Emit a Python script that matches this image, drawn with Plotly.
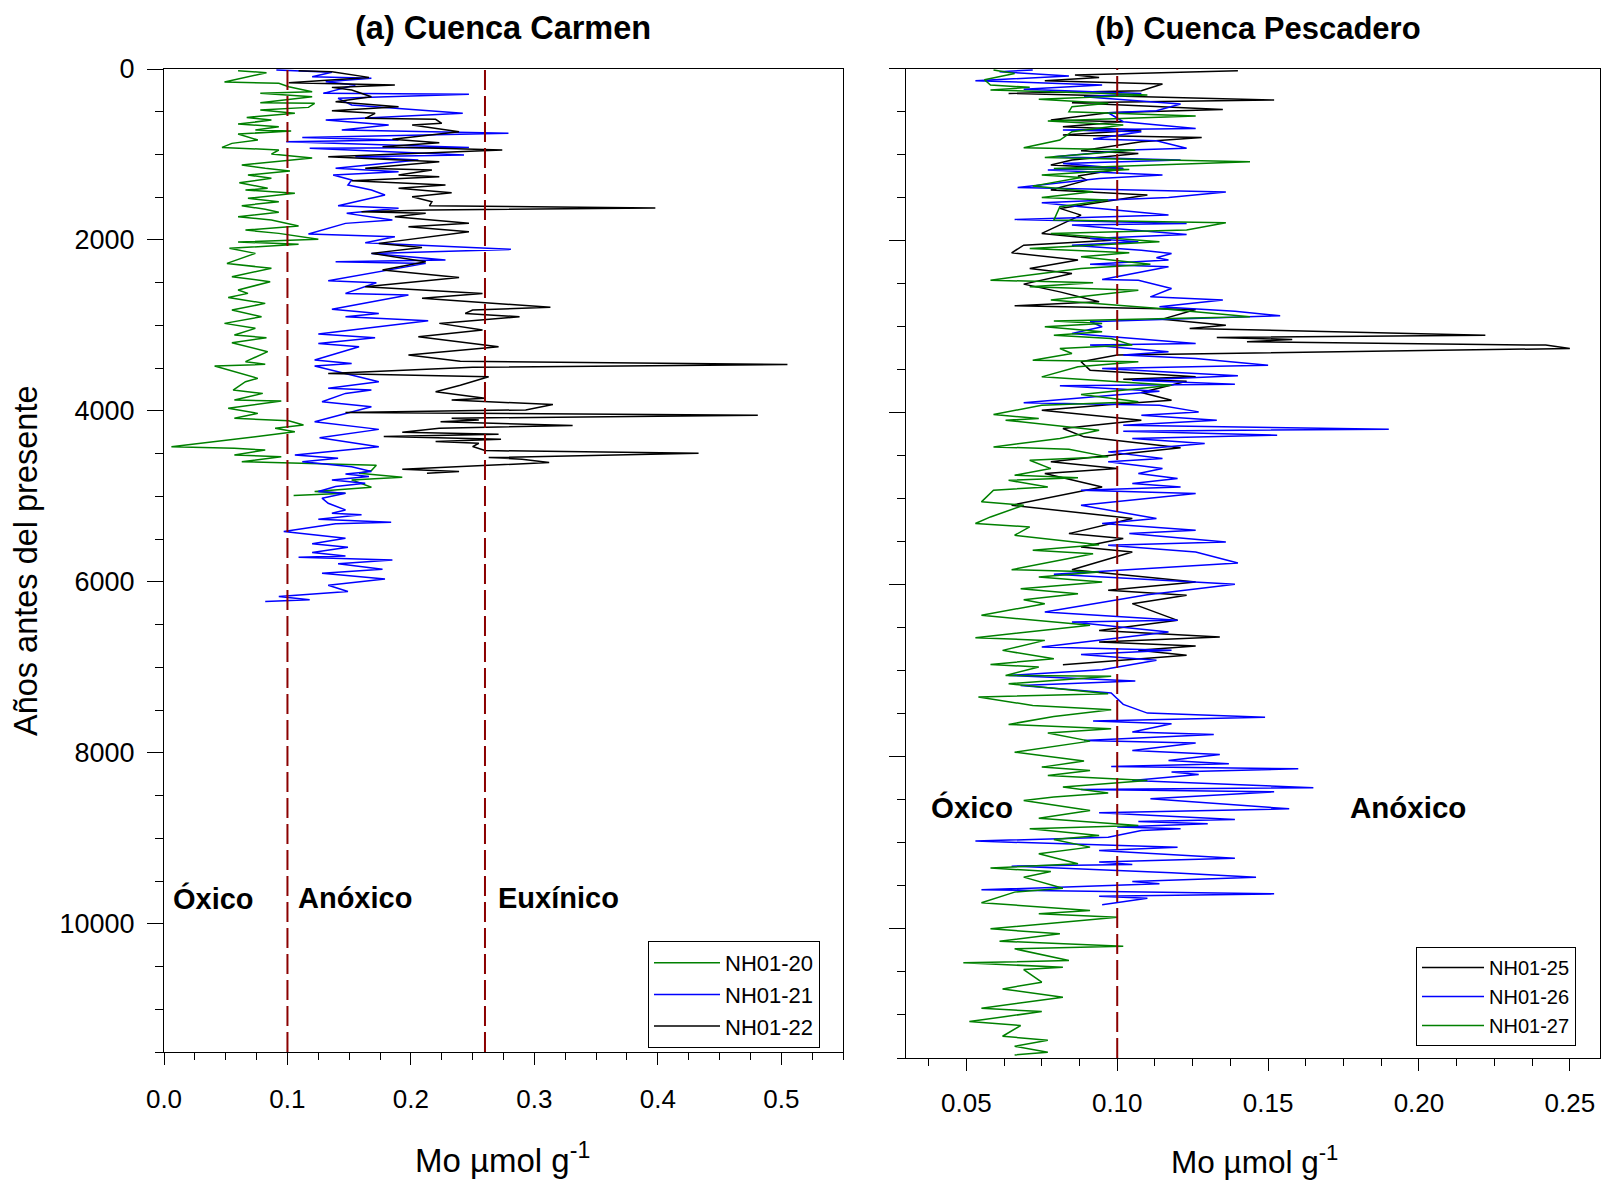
import plotly.graph_objects as go

# ---------------- DATA (age in years BP, Mo in umol/g) ----------------
# Panel (a) Cuenca Carmen
nh01_20 = [(20,0.060),(43,0.083),(152,0.049),(168,0.093),(207,0.101),(265,0.120),(285,0.078),(324,0.120),
           (394,0.078),(402,0.122),(449,0.117),(480,0.078),(519,0.106),(566,0.067),(597,0.087),(644,0.060),
           (675,0.093),(714,0.074),(725,0.103),(761,0.060),(831,0.076),(870,0.055),(917,0.047),(948,0.093),
           (995,0.087),(1041,0.120),(1123,0.063),(1162,0.082),(1193,0.102),(1240,0.068),(1279,0.087),(1330,0.061),
           (1396,0.084),(1416,0.066),(1455,0.106),(1513,0.068),(1552,0.093),(1599,0.063),(1642,0.082),(1677,0.093),
           (1728,0.060),(1767,0.087),(1837,0.109),(1884,0.066),(1923,0.093),(1993,0.125),(2024,0.060),(2051,0.109),
           (2098,0.053),(2157,0.074),(2274,0.051),(2332,0.087),(2430,0.055),(2488,0.086),(2586,0.060),(2625,0.068),
           (2672,0.052),(2742,0.082),(2820,0.055),(2898,0.079),(2976,0.049),(3034,0.074),(3112,0.057),(3143,0.083),
           (3202,0.055),(3307,0.084),(3424,0.066),(3455,0.082),(3475,0.041),(3541,0.057),(3619,0.076),(3658,0.066),
           (3756,0.056),(3795,0.080),(3873,0.057),(3884,0.095),(3970,0.052),(4029,0.076),(4087,0.057),(4115,0.101),
           (4165,0.113),(4204,0.090),(4243,0.106),(4302,0.074),(4341,0.051),(4419,0.006),(4438,0.057),(4458,0.082),
           (4516,0.057),(4536,0.095),(4594,0.063),(4635,0.172),(4698,0.168),(4729,0.158),(4776,0.193),(4807,0.152),
           (4893,0.168),(4943,0.122),(4963,0.147),(4990,0.105)]

nh01_21 = [(12,0.091),(39,0.136),(90,0.120),(109,0.168),(148,0.131),(187,0.155),(285,0.129),(296,0.247),
           (343,0.141),(421,0.152),(519,0.242),(597,0.131),(655,0.182),(714,0.144),(753,0.279),(800,0.112),
           (831,0.190),(850,0.099),(917,0.247),(928,0.118),(1006,0.243),(1026,0.155),(1065,0.206),(1162,0.139),
           (1201,0.190),(1240,0.137),(1299,0.152),(1357,0.149),(1416,0.168),(1474,0.179),(1599,0.141),(1630,0.190),
           (1689,0.148),(1767,0.185),(1806,0.147),(1931,0.117),(1962,0.187),(2032,0.163),(2110,0.281),(2157,0.168),
           (2235,0.228),(2254,0.139),(2274,0.212),(2391,0.168),(2477,0.133),(2500,0.172),(2625,0.147),(2644,0.198),
           (2812,0.136),(2859,0.174),(2898,0.147),(2945,0.214),(3101,0.125),(3143,0.171),(3210,0.125),(3249,0.158),
           (3405,0.122),(3444,0.152),(3475,0.122),(3658,0.174),(3736,0.133),(3756,0.168),(3795,0.147),(3892,0.128),
           (3951,0.168),(4126,0.122),(4216,0.174),(4313,0.126),(4419,0.174),(4516,0.106),(4555,0.141),(4594,0.112),
           (4653,0.152),(4709,0.168),(4737,0.147),(4768,0.166),(4807,0.136),(4846,0.163),(4885,0.139),(4943,0.125),
           (4963,0.147),(5021,0.128),(5080,0.133),(5158,0.147),(5197,0.136),(5216,0.160),(5267,0.125),(5302,0.184),
           (5321,0.139),(5411,0.097),(5450,0.125),(5489,0.147),(5555,0.120),(5594,0.149),(5657,0.120),(5696,0.147),
           (5711,0.109),(5743,0.185),(5789,0.141),(5852,0.177),(5898,0.128),(5965,0.179),(6039,0.133),(6113,0.149),
           (6171,0.093),(6210,0.118),(6230,0.082)]

nh01_22 = [(20,0.109),(31,0.136),(98,0.166),(160,0.101),(187,0.187),(215,0.136),(246,0.152),(324,0.168),
           (382,0.139),(441,0.190),(488,0.136),(519,0.171),(577,0.163),(589,0.220),(636,0.225),(655,0.201),
           (733,0.239),(823,0.185),(862,0.223),(909,0.177),(948,0.274),(1026,0.133),(1084,0.223),(1162,0.163),
           (1182,0.217),(1240,0.190),(1260,0.223),(1307,0.152),(1357,0.228),(1396,0.190),(1447,0.233),(1494,0.201),
           (1552,0.217),(1600,0.215),(1626,0.398),(1650,0.215),(1669,0.160),(1689,0.212),(1728,0.187),(1806,0.247),
           (1845,0.198),(1903,0.247),(2040,0.174),(2087,0.209),(2157,0.168),(2254,0.212),(2352,0.177),(2438,0.239),
           (2547,0.163),(2625,0.258),(2683,0.209),(2742,0.269),(2787,0.313),(2820,0.250),(2859,0.244),(2898,0.288),
           (2976,0.223),(3054,0.258),(3132,0.206),(3249,0.271),(3346,0.198),(3420,0.240),(3457,0.505),(3490,0.250),
           (3561,0.133),(3600,0.263),(3700,0.240),(3775,0.220),(3853,0.260),(3873,0.233),(3926,0.315),(3988,0.293),
           (4019,0.147),(4050,0.481),(4085,0.233),(4105,0.255),(4128,0.224),(4171,0.331),(4202,0.223),(4249,0.193),
           (4273,0.271),(4300,0.178),(4331,0.273),(4358,0.220),(4378,0.255),(4417,0.250),(4464,0.260),(4495,0.433),
           (4546,0.263),(4565,0.290),(4604,0.312),(4682,0.193),(4709,0.239),(4729,0.213)]

# Panel (b) Cuenca Pescadero
nh01_25 = [(24,0.140),(74,0.086),(102,0.094),(140,0.076),(179,0.115),(257,0.108),(288,0.064),(365,0.152),
           (396,0.085),(474,0.135),(513,0.097),(598,0.078),(617,0.102),(675,0.082),(714,0.108),(772,0.082),
           (800,0.128),(850,0.108),(955,0.088),(986,0.107),(1063,0.085),(1121,0.078),(1160,0.102),(1249,0.087),
           (1296,0.090),(1412,0.078),(1470,0.110),(1625,0.081),(1703,0.088),(1916,0.075),(1994,0.098),(2052,0.069),
           (2141,0.065),(2226,0.087),(2323,0.071),(2381,0.085),(2505,0.069),(2595,0.081),(2711,0.094),(2757,0.066),
           (2800,0.126),(2912,0.115),(2982,0.136),(3020,0.124),(3098,0.222),(3125,0.133),(3148,0.158),(3175,0.143),
           (3214,0.242),(3253,0.250),(3330,0.100),(3408,0.088),(3505,0.091),(3583,0.126),(3610,0.102),(3633,0.123),
           (3765,0.108),(3854,0.118),(3904,0.098),(3970,0.075),(4087,0.108),(4183,0.082),(4280,0.089),(4408,0.121),
           (4571,0.078),(4649,0.100),(4707,0.076),(4862,0.095),(5075,0.065),(5230,0.105),(5405,0.084),(5463,0.102),
           (5560,0.088),(5618,0.105),(5824,0.085),(5967,0.126),(6064,0.097),(6122,0.123),(6219,0.105),(6335,0.114),
           (6413,0.120),(6530,0.094),(6607,0.134),(6665,0.094),(6712,0.126),(6762,0.107),(6820,0.123),(6929,0.082)]

nh01_26 = [(16,0.072),(36,0.061),(86,0.084),(140,0.053),(191,0.095),(241,0.069),(288,0.108),(326,0.089),
           (412,0.121),(489,0.113),(513,0.097),(617,0.102),(695,0.126),(714,0.082),(734,0.108),(819,0.092),
           (838,0.113),(927,0.123),(947,0.104),(1024,0.079),(1063,0.121),(1102,0.082),(1160,0.102),(1179,0.077),
           (1238,0.115),(1276,0.094),(1381,0.067),(1435,0.136),(1497,0.117),(1559,0.075),(1606,0.088),(1703,0.117),
           (1753,0.066),(1800,0.123),(1819,0.085),(1928,0.123),(1974,0.091),(2013,0.107),(2052,0.085),(2110,0.108),
           (2149,0.118),(2199,0.113),(2226,0.117),(2273,0.091),(2304,0.117),(2451,0.095),(2459,0.107),(2556,0.118),
           (2653,0.111),(2691,0.135),(2769,0.114),(2819,0.139),(2873,0.154),(2943,0.091),(3001,0.095),(3079,0.085),
           (3195,0.126),(3214,0.091),(3292,0.117),(3330,0.102),(3369,0.126),(3447,0.150),(3486,0.095),(3571,0.140),
           (3621,0.105),(3668,0.139),(3687,0.081),(3749,0.114),(3885,0.069),(3912,0.114),(3990,0.127),(4028,0.108),
           (4087,0.133),(4145,0.102),(4191,0.190),(4214,0.102),(4261,0.153),(4300,0.105),(4358,0.129),(4455,0.097),
           (4532,0.115),(4571,0.097),(4649,0.115),(4707,0.107),(4765,0.120),(4823,0.105),(4862,0.121),(4901,0.088),
           (4940,0.126),(5075,0.088),(5230,0.113),(5288,0.095),(5366,0.126),(5405,0.104),(5502,0.136),(5540,0.097),
           (5618,0.126),(5746,0.140),(5878,0.079),(5994,0.139),(6115,0.110),(6316,0.076),(6413,0.120),(6433,0.085),
           (6549,0.117),(6723,0.075),(6762,0.118),(6809,0.088),(6878,0.113),(6987,0.095),(7053,0.064),(7119,0.106),
           (7169,0.068),(7258,0.098),(7390,0.102),(7491,0.110),(7538,0.149),(7584,0.092),(7615,0.118),(7712,0.105),
           (7739,0.132),(7809,0.089),(7840,0.126),(7925,0.105),(7972,0.134),(8042,0.117),(8080,0.137),(8111,0.098),
           (8138,0.160),(8177,0.118),(8204,0.127),(8274,0.105),(8359,0.165),(8379,0.088),(8406,0.152),(8476,0.113),
           (8487,0.111),(8603,0.157),(8650,0.094),(8727,0.139),(8750,0.107),(8778,0.130),(8816,0.100),(8836,0.121),
           (8855,0.108),(8933,0.097),(8979,0.053),(9049,0.120),(9088,0.094),(9177,0.139),(9223,0.094),(9250,0.105),
           (9270,0.065),(9347,0.118),(9398,0.146),(9448,0.105),(9475,0.114),(9545,0.055),(9592,0.152),(9619,0.094),
           (9642,0.110),(9720,0.095)]

nh01_27 = [(16,0.059),(56,0.066),(130,0.056),(191,0.058),(218,0.071),(249,0.058),(288,0.097),(307,0.110),
           (357,0.074),(404,0.097),(443,0.085),(501,0.084),(551,0.126),(609,0.077),(656,0.102),(734,0.085),
           (830,0.081),(920,0.069),(947,0.106),(1032,0.076),(1082,0.144),(1160,0.079),(1172,0.104),(1238,0.075),
           (1265,0.088),(1366,0.072),(1431,0.092),(1497,0.075),(1528,0.097),(1606,0.081),(1761,0.079),(1792,0.136),
           (1877,0.123),(1916,0.078),(2013,0.114),(2091,0.071),(2141,0.104),(2187,0.088),(2273,0.111),(2323,0.088),
           (2459,0.058),(2490,0.092),(2536,0.071),(2575,0.107),(2691,0.078),(2788,0.114),(2885,0.144),(2935,0.079),
           (2962,0.095),(3001,0.076),(3059,0.095),(3098,0.079),(3137,0.098),(3214,0.105),(3253,0.081),(3311,0.085),
           (3389,0.072),(3408,0.107),(3466,0.087),(3583,0.075),(3680,0.118),(3788,0.088),(3873,0.107),(3912,0.075),
           (4021,0.059),(4067,0.074),(4087,0.063),(4203,0.094),(4300,0.081),(4397,0.059),(4424,0.084),(4513,0.097),
           (4552,0.071),(4649,0.078),(4726,0.066),(4757,0.087),(4785,0.064),(4862,0.077),(4901,0.059),(5036,0.055),
           (5075,0.069),(5211,0.058),(5288,0.053),(5327,0.071),(5424,0.066),(5533,0.094),(5599,0.072),(5638,0.092),
           (5824,0.065),(5851,0.094),(5909,0.074),(5967,0.095),(6045,0.068),(6103,0.087),(6173,0.069),(6219,0.076),
           (6355,0.055),(6471,0.091),(6615,0.053),(6646,0.076),(6762,0.062),(6859,0.079),(6925,0.058),(6956,0.074),
           (7053,0.063),(7064,0.098),(7150,0.064),(7266,0.097),(7305,0.054),(7402,0.072),(7452,0.098),(7530,0.079),
           (7623,0.064),(7673,0.098),(7723,0.077),(7817,0.091),(7945,0.066),(8003,0.078),(8049,0.089),(8119,0.075),
           (8158,0.091),(8215,0.077),(8274,0.110),(8351,0.082),(8421,0.097),(8467,0.079),(8506,0.069),(8622,0.091),
           (8712,0.074),(8797,0.107),(8836,0.071),(8913,0.094),(8960,0.079),(9049,0.091),(9126,0.074),(9243,0.087),
           (9293,0.058),(9332,0.078),(9398,0.069),(9526,0.082),(9572,0.066),(9696,0.055),(9785,0.091),(9824,0.074),
           (9863,0.100),(9999,0.058),(10057,0.081),(10142,0.061),(10200,0.102),(10231,0.066),(10367,0.084),(10394,0.049),
           (10444,0.082),(10472,0.069),(10619,0.075),(10697,0.062),(10794,0.082),(10922,0.055),(10960,0.075),(11077,0.051),
           (11123,0.068),(11247,0.062),(11294,0.077),(11364,0.066),(11433,0.077),(11464,0.066)]

thresholds_a = [0.10, 0.26]
thresholds_b = [0.10]

x_ticks_a = [0.0, 0.1, 0.2, 0.3, 0.4, 0.5]
x_ticks_b = [0.05, 0.10, 0.15, 0.20, 0.25]
y_ticks = [0, 2000, 4000, 6000, 8000, 10000]
y_tick_labels = ["0", "2000", "4000", "6000", "8000", "10000"]

# ---------------- FIGURE ----------------
W, H = 1606, 1183
FONT = "Liberation Sans, Arial, Helvetica, sans-serif"
GREEN, BLUE, BLACK, RED = "#008000", "#0000FF", "#000000", "#8B0000"

def px(x):
    return x / W

def py(y):
    return 1 - y / H

def unzip(series):
    return [p[1] for p in series], [p[0] for p in series]

fig = go.Figure()

for name, ser, col in [("NH01-20", nh01_20, GREEN), ("NH01-21", nh01_21, BLUE), ("NH01-22", nh01_22, BLACK)]:
    xs, ys = unzip(ser)
    fig.add_trace(go.Scatter(x=xs, y=ys, mode="lines", name=name, line=dict(color=col, width=1.5),
                             xaxis="x", yaxis="y", legend="legend"))

for name, ser, col in [("NH01-25", nh01_25, BLACK), ("NH01-26", nh01_26, BLUE), ("NH01-27", nh01_27, GREEN)]:
    xs, ys = unzip(ser)
    fig.add_trace(go.Scatter(x=xs, y=ys, mode="lines", name=name, line=dict(color=col, width=1.5),
                             xaxis="x2", yaxis="y2", legend="legend2"))

shapes = []
for t in thresholds_a:
    shapes.append(dict(type="line", xref="x", yref="y domain", x0=t, x1=t, y0=0, y1=1,
                       line=dict(color=RED, width=2, dash="20px,6px"), layer="above"))
for t in thresholds_b:
    shapes.append(dict(type="line", xref="x2", yref="y2 domain", x0=t, x1=t, y0=0, y1=1,
                       line=dict(color=RED, width=2, dash="20px,6px"), layer="above"))

axis_common = dict(showgrid=False, zeroline=False, showline=True, linecolor="black", linewidth=1,
                   mirror=True, ticks="outside", tickcolor="black", tickwidth=1, automargin=False,
                   tickfont=dict(family=FONT, size=26, color="black"))

left_x = dict(domain=[px(164), px(843)], range=[0, 0.55], tickvals=x_ticks_a, tickformat=".1f",
              ticklen=12, minor=dict(dtick=0.025, tick0=0, ticklen=7, ticks="outside", tickcolor="black"),
              anchor="y", ticklabelstandoff=12, **axis_common)
right_x = dict(domain=[px(906), px(1600)], range=[0.03, 0.26], tickvals=x_ticks_b, tickformat=".2f",
               ticklen=12, minor=dict(dtick=0.0125, tick0=0, ticklen=7, ticks="outside", tickcolor="black"),
               anchor="y2", ticklabelstandoff=10, **axis_common)
left_y = dict(domain=[py(1052), py(69)], range=[11500, 0], tickvals=y_ticks, ticktext=y_tick_labels,
              ticklen=16, minor=dict(dtick=500, tick0=0, ticklen=8, ticks="outside", tickcolor="black"),
              anchor="x", ticklabelstandoff=7, **axis_common)
left_y["tickfont"] = dict(family=FONT, size=27, color="black")
right_y = dict(domain=[py(1058), py(68.6)], range=[11500, 0], tickvals=y_ticks, ticklen=16,
               showticklabels=False,
               minor=dict(dtick=500, tick0=0, ticklen=8, ticks="outside", tickcolor="black"),
               anchor="x2", **axis_common)

annotations = [
    dict(text="<b>(a) Cuenca Carmen</b>", x=px(503), y=py(28), xref="paper", yref="paper",
         xanchor="center", yanchor="middle", showarrow=False, font=dict(family=FONT, size=32.5, color="black")),
    dict(text="<b>(b) Cuenca Pescadero</b>", x=px(1258), y=py(28), xref="paper", yref="paper",
         xanchor="center", yanchor="middle", showarrow=False, font=dict(family=FONT, size=31, color="black")),
    dict(text="Mo µmol g<sup>-1</sup>", x=px(503), y=py(1158), xref="paper", yref="paper",
         xanchor="center", yanchor="middle", showarrow=False, font=dict(family=FONT, size=33, color="black")),
    dict(text="Mo µmol g<sup>-1</sup>", x=px(1254), y=py(1160), xref="paper", yref="paper",
         xanchor="center", yanchor="middle", showarrow=False, font=dict(family=FONT, size=31.5, color="black")),
    dict(text="Años antes del presente", x=px(26), y=py(561), xref="paper", yref="paper", textangle=-90,
         xanchor="center", yanchor="middle", showarrow=False, font=dict(family=FONT, size=32.5, color="black")),
    dict(text="<b>Óxico</b>", x=px(171), y=py(898), xref="paper", yref="paper",
         xanchor="left", yanchor="middle", showarrow=False, font=dict(family=FONT, size=29, color="black")),
    dict(text="<b>Anóxico</b>", x=px(296), y=py(898), xref="paper", yref="paper",
         xanchor="left", yanchor="middle", showarrow=False, font=dict(family=FONT, size=29, color="black")),
    dict(text="<b>Euxínico</b>", x=px(496), y=py(898), xref="paper", yref="paper",
         xanchor="left", yanchor="middle", showarrow=False, font=dict(family=FONT, size=29, color="black")),
    dict(text="<b>Óxico</b>", x=px(929), y=py(807), xref="paper", yref="paper",
         xanchor="left", yanchor="middle", showarrow=False, font=dict(family=FONT, size=29.5, color="black")),
    dict(text="<b>Anóxico</b>", x=px(1348), y=py(807), xref="paper", yref="paper",
         xanchor="left", yanchor="middle", showarrow=False, font=dict(family=FONT, size=29.5, color="black")),
]

fig.update_layout(
    width=W, height=H, autosize=False,
    margin=dict(l=0, r=0, t=0, b=0, pad=0, autoexpand=False),
    paper_bgcolor="white", plot_bgcolor="white",
    font=dict(family=FONT, color="black"),
    xaxis=left_x, yaxis=left_y, xaxis2=right_x, yaxis2=right_y,
    shapes=shapes, annotations=annotations,
    showlegend=True,
    legend=dict(x=px(648), y=py(941), xanchor="left", yanchor="top", bgcolor="white",
                bordercolor="black", borderwidth=1, font=dict(family=FONT, size=22, color="black"),
                itemwidth=66, tracegroupgap=0),
    legend2=dict(x=px(1416), y=py(947), xanchor="left", yanchor="top", bgcolor="white",
                 bordercolor="black", borderwidth=1, font=dict(family=FONT, size=20, color="black"),
                 itemwidth=62, tracegroupgap=0),
)

fig.write_html("out.html")
